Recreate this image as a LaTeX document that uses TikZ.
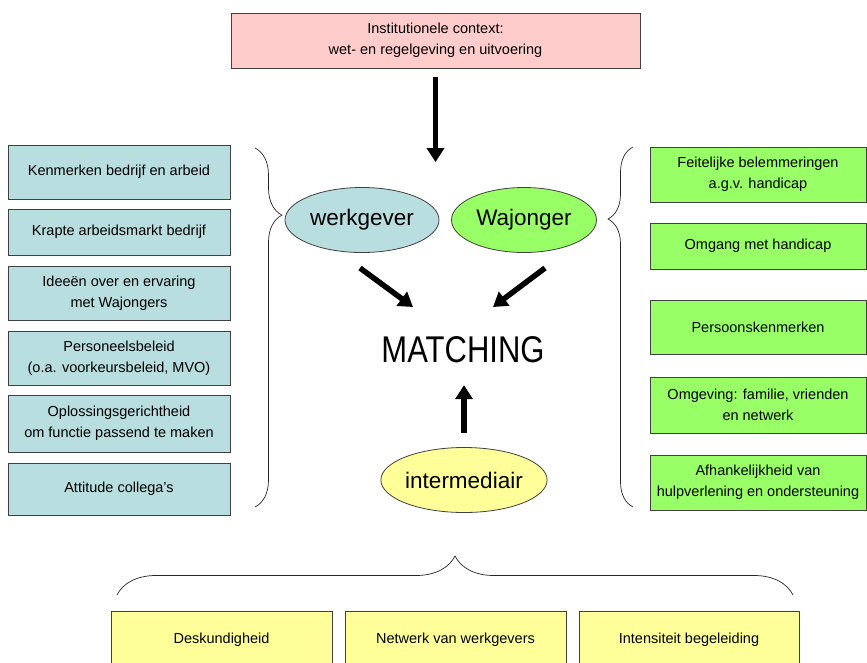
\documentclass[tikz,border=0pt]{standalone}
\usepackage{fontspec}
\setmainfont{Liberation Sans}
\usepackage{tikz}
\usetikzlibrary{arrows.meta, decorations.pathreplacing, shapes.geometric, positioning}

\definecolor{boxteal}{RGB}{184,222,224}
\definecolor{boxgreen}{RGB}{153,255,102}
\definecolor{boxpink}{RGB}{255,204,204}
\definecolor{boxyellow}{RGB}{255,255,153}

\begin{document}
\begin{tikzpicture}[x=1pt, y=-1pt,
    factor/.style={draw=black!75, line width=0.9pt, align=center, inner sep=2pt,
        font=\fontsize{14.5}{21}\selectfont},
    actor/.style={ellipse, draw=black!75, line width=0.8pt, inner sep=0pt,
        minimum height=65pt, font=\fontsize{22.5}{26}\selectfont},
    fatarrow/.style={line width=5.5pt, -{Triangle[width=17pt,length=14pt]}},
    curly/.style={draw=black!85, line width=0.7pt, decorate}
]
    \clip (0,0) rectangle (867,662);

    % Institutional context on top
    \node[factor, fill=boxpink, minimum width=409pt, minimum height=55pt] (ctx) at (435.5,40.5)
        {Institutionele context:\\wet- en regelgeving en uitvoering};

    % The three actors and the matching
    \node[actor, fill=boxteal, minimum width=154pt] (wg) at (362,220) {werkgever};
    \node[actor, fill=boxgreen, minimum width=145pt] (wj) at (524,220) {Wajonger};
    \node[actor, fill=boxyellow, minimum width=150pt] (im) at (464,480) {intermediair};
    \node[font=\fontsize{31}{36}\selectfont] (match) at (463,350) {\scalebox{1}[1.2]{MATCHING}};

    % Employer side (left)
    \begin{scope}[every node/.style={factor, fill=boxteal, minimum width=222pt}]
        \node[minimum height=54pt] (l1) at (119,172)   {Kenmerken bedrijf en arbeid};
        \node[minimum height=46pt] (l2) at (119,232)   {Krapte arbeidsmarkt bedrijf};
        \node[minimum height=54pt] (l3) at (119,293)   {Ideeën over en ervaring\\met Wajongers};
        \node[minimum height=54pt] (l4) at (119,358)   {Personeelsbeleid\\(o.a. voorkeursbeleid, MVO)};
        \node[minimum height=57pt] (l5) at (119,423.5) {Oplossingsgerichtheid\\om functie passend te maken};
        \node[minimum height=52pt] (l6) at (119,489)   {Attitude collega's};
    \end{scope}

    % Wajonger side (right)
    \begin{scope}[every node/.style={factor, fill=boxgreen, minimum width=216pt}]
        \node[minimum height=55pt] (r1) at (758,174.5) {Feitelijke belemmeringen\\a.g.v. handicap};
        \node[minimum height=46pt] (r2) at (758,246)   {Omgang met handicap};
        \node[minimum height=54pt] (r3) at (758,327)   {Persoonskenmerken};
        \node[minimum height=56pt] (r4) at (758,405)   {Omgeving: familie, vrienden\\en netwerk};
        \node[minimum height=55pt] (r5) at (758,482.5) {Afhankelijkheid van\\hulpverlening en ondersteuning};
    \end{scope}

    % Intermediary side (bottom)
    \begin{scope}[every node/.style={factor, fill=boxyellow, minimum height=57pt}]
        \node[minimum width=221pt] (b1) at (221.5,639.5) {Deskundigheid};
        \node[minimum width=221pt] (b2) at (455.5,639.5) {Netwerk van werkgevers};
        \node[minimum width=220pt] (b3) at (689,639.5)   {Intensiteit begeleiding};
    \end{scope}

    % Braces
    \draw[curly, decoration={brace, amplitude=27pt, aspect=0.187}] (255,148) -- (255,507);
    \draw[curly, decoration={brace, amplitude=25pt, aspect=0.80}] (633,507) -- (633,147);
    \draw[curly, decoration={brace, amplitude=39pt, aspect=0.5}] (117,595) -- (793,595);

    % Arrows
    \coordinate (wgtail) at (360,268);
    \coordinate (wgtip) at (413,307);
    \coordinate (wjtail) at (545,268);
    \coordinate (wjtip) at (493,307);
    \draw[fatarrow, shorten <=9pt, shorten >=25pt] (ctx.south) -- (ctx.south |- wg.north);
    \draw[fatarrow] (wgtail) -- (wgtip);
    \draw[fatarrow] (wjtail) -- (wjtip);
    \draw[fatarrow, shorten <=14pt] (im.north) -- ++(0,-62);

\end{tikzpicture}
\end{document}
